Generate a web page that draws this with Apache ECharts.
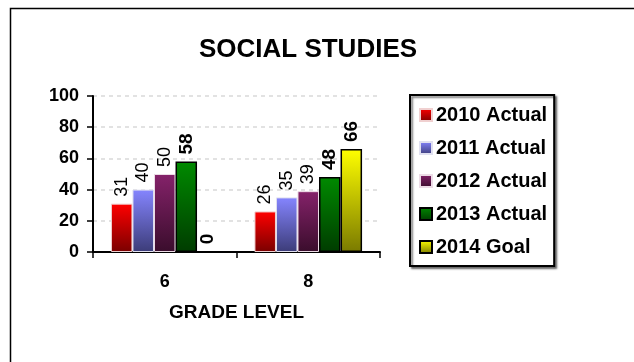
<!DOCTYPE html>
<html>
<head>
<meta charset="utf-8">
<script src="https://cdn.jsdelivr.net/npm/echarts@6/dist/echarts.min.js"></script>
<style>
html,body{margin:0;padding:0;background:#fff;}
#c{width:634px;height:362px;}
</style>
</head>
<body>
<div id="c"></div>
<script>
var categories = ['6', '8'];
var seriesNames = ['2010 Actual', '2011 Actual', '2012 Actual', '2013 Actual', '2014 Goal'];
var v2010 = [31, 26];
var v2011 = [40, 35];
var v2012 = [50, 39];
var v2013 = [58, 48];
var v2014 = [0, 66];
var yTicks = [0, 20, 40, 60, 80, 100];

var FONT = "'Liberation Sans', Arial, sans-serif";
function grad(top, bottom) {
  return new echarts.graphic.LinearGradient(0, 0, 0, 1, [
    {offset: 0, color: top}, {offset: 1, color: bottom}
  ]);
}
var styles = [
  {color: grad('#ff0000', '#7a0000'), borderColor: '#f0d0d0', borderWidth: 1, bold: false},
  {color: grad('#8585ff', '#3c3c78'), borderColor: '#e0e0f0', borderWidth: 1, bold: false},
  {color: grad('#85226a', '#3a0d2c'), borderColor: '#ecdce6', borderWidth: 1, bold: false},
  {color: grad('#008a00', '#003c00'), borderColor: '#000', borderWidth: 1.5, bold: true},
  {color: grad('#ffff00', '#7a7a00'), borderColor: '#000', borderWidth: 1.5, bold: true}
];
var dataSets = [v2010, v2011, v2012, v2013, v2014];

var series = seriesNames.map(function (n, i) {
  return {
    name: n,
    type: 'bar',
    data: dataSets[i],
    barGap: '0%',
    barCategoryGap: '25%',
    itemStyle: {color: styles[i].color, borderColor: styles[i].borderColor, borderWidth: styles[i].borderWidth},
    label: {
      show: true,
      position: 'top',
      rotate: 90,
      align: 'left',
      verticalAlign: 'middle',
      distance: 7,
      color: '#000',
      fontFamily: FONT,
      fontSize: styles[i].bold ? 19 : 18,
      fontWeight: styles[i].bold ? 'bold' : 'normal'
    }
  };
});

var chart = echarts.init(document.getElementById('c'), null, {renderer: 'canvas'});
chart.setOption({
  animation: false,
  backgroundColor: '#fff',
  textStyle: {fontFamily: FONT},
  title: {
    text: 'SOCIAL STUDIES',
    left: 308,
    top: 37,
    textAlign: 'center',
    padding: 0,
    textStyle: {fontFamily: FONT, fontSize: 26, fontWeight: 'bold', color: '#000'}
  },
  graphic: [{
    type: 'rect',
    shape: {x: 10.5, y: 8.5, width: 700, height: 500},
    style: {fill: 'none', stroke: '#000', lineWidth: 1.5},
    silent: true,
    z: -1
  }],
  legend: {
    orient: 'vertical',
    left: 410,
    top: 95,
    padding: [10, 7, 9, 9],
    itemGap: 13,
    itemWidth: 12,
    itemHeight: 12,
    icon: 'rect',
    borderColor: '#000',
    borderWidth: 2,
    backgroundColor: '#fff',
    shadowColor: 'rgba(0,0,0,0.5)',
    shadowBlur: 2,
    shadowOffsetX: 2,
    shadowOffsetY: 2,
    textStyle: {fontFamily: FONT, fontSize: 20, fontWeight: 'bold', color: '#000', padding: [0, 0, 0, -1]},
    data: seriesNames
  },
  grid: {left: 93, right: 254, top: 96, bottom: 110, containLabel: false},
  xAxis: {
    type: 'category',
    data: categories,
    name: 'GRADE LEVEL',
    nameLocation: 'middle',
    nameGap: 51,
    nameTextStyle: {fontFamily: FONT, fontSize: 19, fontWeight: 'bold', color: '#000'},
    axisLine: {lineStyle: {color: '#000', width: 2}},
    axisTick: {show: true, length: 6, lineStyle: {color: '#000', width: 1.5}},
    axisLabel: {margin: 21, fontFamily: FONT, fontSize: 18, fontWeight: 'bold', color: '#000'}
  },
  yAxis: {
    type: 'value',
    min: yTicks[0],
    max: yTicks[yTicks.length - 1],
    interval: yTicks[1] - yTicks[0],
    axisLine: {show: true, lineStyle: {color: '#000', width: 2}},
    axisTick: {show: true, length: 6, lineStyle: {color: '#000', width: 1.5}},
    axisLabel: {margin: 14, fontFamily: FONT, fontSize: 18, fontWeight: 'bold', color: '#000'},
    splitLine: {show: true, lineStyle: {color: '#d9d9d9', type: [4, 4], width: 1.5}}
  },
  series: series
});
</script>
</body>
</html>
